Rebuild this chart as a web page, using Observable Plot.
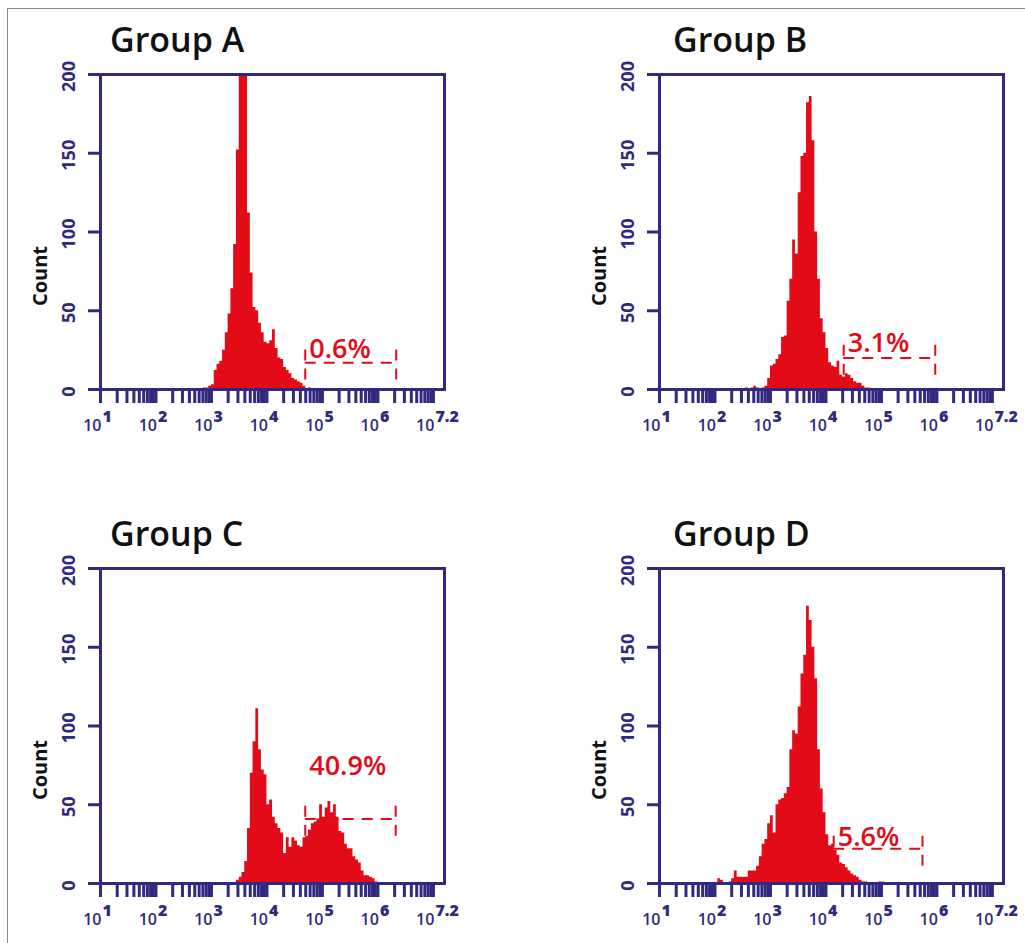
<!DOCTYPE html>
<html><head><meta charset="utf-8">
<script src="https://cdn.jsdelivr.net/npm/d3@7"></script>
<script src="https://cdn.jsdelivr.net/npm/@observablehq/plot@0.6"></script>
<style>
html,body{margin:0;padding:0;width:1025px;height:943px;overflow:hidden;background:#fff;font-family:"Open Sans",sans-serif;}
#page{position:relative;width:1025px;height:943px;overflow:hidden;}
#border{position:absolute;left:7px;top:8px;width:1100px;height:1000px;border-top:1.5px solid #8a8a8a;border-left:1.5px solid #8a8a8a;}
.panel{position:absolute;width:512px;height:449px;}
.panel svg{max-width:none !important;width:512px;height:449px;}
.panel svg g[aria-label="x-axis tick"]{stroke-width:3px;stroke-opacity:1;}
.title{position:absolute;font-family:"Open Sans",sans-serif;font-size:34px;font-weight:600;line-height:34px;color:#111;white-space:nowrap;}
</style>
</head><body>
<div id="page"><div id="border"></div></div>
<script>
// ---- data ----
const groups = ["Group A", "Group B", "Group C", "Group D"];
const binWidthLog = 0.05;                 // bin width in log10 units
const binStartLog = [2.85, 2.55, 3.45, 2.05];
const countsA = [1,1,2,3,12,16,18,25,36,48,64,92,152,260,260,230,112,74,52,50,42,36,30,29,31,38,26,20,19,14,12,10,7,6,5,4,2,0,1];
const countsB = [1,0,1,2,1,0,1,2,7,15,16,19,22,33,34,56,70,95,86,125,148,150,182,186,158,100,70,45,36,26,17,15,14,18,9,8,10,9,7,5,4,4,2,1,1];
const countsC = [2,4,7,14,35,70,90,111,85,72,69,50,53,42,38,35,32,19,29,23,29,27,24,23,29,30,34,38,39,41,50,42,48,52,45,50,42,33,32,25,22,22,17,15,13,8,5,5,4,3,1];
const countsD = [3,2,0,0,1,3,8,4,4,4,4,8,8,8,11,17,25,28,38,43,32,50,53,54,57,61,85,97,95,112,133,145,176,167,150,130,85,60,45,31,24,25,21,18,13,12,10,8,6,5,4,2,1,1,0,0,0,0,1,1];
const gateLabels = ["0.6%", "3.1%", "40.9%", "5.6%"];
const gateLoLog = [4.69, 4.32, 4.69, 4.14];
const gateHiLog = [6.33, 5.97, 6.32, 5.74];
const gateCount = [17, 20, 41, 22];
const gateLabelCount = [20, 23.5, 68.6, 24];
const gateHalfHeight = 11;
const yTicks = [0, 50, 100, 150, 200];
const xDecades = [1, 2, 3, 4, 5, 6, 7];
const xExpLabels = ["1", "2", "3", "4", "5", "6", "7.2"];
const minorMultipliers = [2, 3, 4, 5, 6, 7, 8, 9];
const xMinLog = 1, xMaxLog = 7.2;
const yMax = 200;

const allCounts = [countsA, countsB, countsC, countsD];
const RED = "#e30b17", NAVY = "#30297f";
const positions = [[0, 0], [559, 0], [0, 494], [559, 494]];
const titlePos = [[110, 22], [673, 22], [110, 516], [673, 516]];

const xTicks = [];
for (const d of xDecades) {
  xTicks.push(10 ** d);
  if (d < 7) for (const m of minorMultipliers) xTicks.push(m * 10 ** d);
}

function panel(i) {
  const counts = allCounts[i];
  const pts = counts.map((c, j) => ({x: 10 ** (binStartLog[i] + j * binWidthLog), y: c}));
  pts.push({x: 10 ** (binStartLog[i] + counts.length * binWidthLog), y: 0});
  const gate = [{lo: 10 ** gateLoLog[i], hi: 10 ** gateHiLog[i], y: gateCount[i], ly: gateLabelCount[i], label: gateLabels[i]}];
  const dashed = {stroke: RED, strokeWidth: 2, strokeDasharray: "11,8"};
  return Plot.plot({
    width: 512, height: 449,
    marginLeft: 100, marginRight: 68, marginTop: 74, marginBottom: 60,
    x: {type: "log", domain: [10 ** xMinLog, 10 ** xMaxLog], label: null},
    y: {domain: [0, yMax], label: null},
    style: {fontFamily: "Open Sans", background: "transparent", overflow: "visible"},
    marks: [
      Plot.areaY(pts, {x: "x", y: "y", curve: "step-after", fill: RED, clip: true}),
      Plot.ruleY(gate, {y: "y", x1: "lo", x2: "hi", ...dashed}),
      Plot.ruleX(gate, {x: "lo", y1: d => d.y - gateHalfHeight, y2: d => d.y + gateHalfHeight, ...dashed}),
      Plot.ruleX(gate, {x: "hi", y1: d => d.y - gateHalfHeight, y2: d => d.y + gateHalfHeight, ...dashed}),
      Plot.text(gate, {x: "lo", y: "ly", text: "label", dx: 4, textAnchor: "start", lineAnchor: "bottom",
        fill: RED, fontSize: 27, fontWeight: 600}),
      Plot.axisX({ticks: xTicks, tickSize: 14, tickFormat: () => "", stroke: NAVY, strokeWidth: 3, strokeOpacity: 1, label: null}),
      Plot.text(xDecades, {x: d => 10 ** d, text: () => "10", frameAnchor: "bottom", dy: 36, dx: 1,
        textAnchor: "end", lineAnchor: "middle", fill: NAVY, fontSize: 16, fontWeight: 600}),
      Plot.text(xDecades, {x: d => 10 ** d, text: (d, k) => xExpLabels[k], frameAnchor: "bottom", dy: 27, dx: 2,
        textAnchor: "start", lineAnchor: "middle", fill: NAVY, fontSize: 16, fontWeight: 800}),
      Plot.axisY({ticks: yTicks, tickSize: 12, tickFormat: () => "", stroke: NAVY, strokeWidth: 3, label: null}),
      Plot.text(yTicks, {y: d => d, text: d => String(d), frameAnchor: "left", dx: -31, dy: 2, rotate: -90,
        textAnchor: "middle", lineAnchor: "middle", fill: NAVY, fontSize: 18, fontWeight: 700}),
      Plot.text(["Count"], {frameAnchor: "left", dx: -60, dy: 44, rotate: -90, textAnchor: "middle",
        lineAnchor: "middle", fill: "#111", fontSize: 20, fontWeight: 700}),
      Plot.frame({stroke: NAVY, strokeWidth: 3})
    ]
  });
}

const page = document.getElementById("page");
groups.forEach((g, i) => {
  const div = document.createElement("div");
  div.className = "panel";
  div.style.left = positions[i][0] + "px";
  div.style.top = positions[i][1] + "px";
  div.appendChild(panel(i));
  page.appendChild(div);
  const t = document.createElement("div");
  t.className = "title";
  t.textContent = g;
  t.style.left = titlePos[i][0] + "px";
  t.style.top = titlePos[i][1] + "px";
  page.appendChild(t);
});
</script>
</body></html>
